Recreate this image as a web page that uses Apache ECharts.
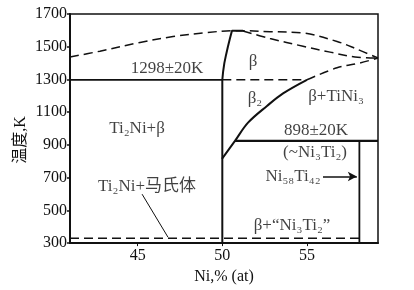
<!DOCTYPE html>
<html><head><meta charset="utf-8">
<script src="https://cdn.jsdelivr.net/npm/echarts@6/dist/echarts.min.js"></script>
<style>html,body{margin:0;padding:0;background:#fff}#c{width:414px;height:290px}</style>
</head><body><div id="c"></div>
<script>
// ---- data (Ni %(at), T in K) ----
const xTicks = [45, 50, 55];
const yTicks = [300, 500, 700, 900, 1100, 1300, 1500, 1700];
const liquidus = [[41.0,1437],[42.77,1473],[45.14,1526],[47.09,1562],[49.1,1586],[50.57,1598],[51.22,1598],[52.82,1592],[54.77,1584],[56.78,1532],[57.96,1485],[59.2,1431]];
const solidus = [[51.22,1596],[52.82,1550],[54.77,1503],[56.37,1467],[57.84,1437],[59.2,1431]];
const betaVertical = [[50.0,300],[50.0,1298]];
const betaCurve = [[50.0,1298],[50.05,1350],[50.12,1400],[50.22,1450],[50.33,1500],[50.45,1550],[50.57,1598],[51.22,1598]];
const line1298Solid = [[41.0,1298],[50.0,1298]];
const line1298Dash = [[50.0,1298],[55.0,1298]];
const beta2Solid = [[49.98,815],[50.75,925],[51.52,1036],[52.64,1138],[53.59,1215],[55.0,1298]];
const beta2Dash = [[55.0,1298],[56.78,1371],[58.14,1401],[59.2,1431]];
const line898 = [[50.75,925],[59.2,925]];
const compoundLine = [[58.1,925],[58.1,300]];
const line330 = [[41.0,330],[58.1,330]];
const leader = [[45.26,599],[46.79,336]];
const arrowLine = [[55.95,707],[57.95,707]];
const labels = [
  {t:'1298±20K', x:46.73, y:1365},
  {t:'β', x:51.82, y:1407},
  {t:'β₂', x:51.93, y:1185},
  {t:'β+TiNi₃', x:56.72, y:1197},
  {t:'898±20K', x:55.54, y:988},
  {t:'(~Ni₃Ti₂)', x:55.48, y:856},
  {t:'Ni₅₈Ti₄₂', x:54.18, y:707},
  {t:'Ti₂Ni+β', x:44.96, y:1000},
  {t:'Ti₂Ni+马氏体', x:45.55, y:647},
  {t:'β+“Ni₃Ti₂”', x:54.12, y:408}
];

const FONT = "'Liberation Serif','DejaVu Serif','Noto Sans CJK SC',serif";
const chart = echarts.init(document.getElementById('c'), null, {renderer:'canvas'});
const DASH = [9,5];
function ln(data, dashed, w) {
  return {type:'line', data:data, symbol:'none', silent:true, animation:false,
    lineStyle:{color:'#111', width:w||1.5, type: dashed ? DASH : 'solid'}, z:3};
}
function curve(data, dashed, w) { const s = ln(data, dashed, w); s.smooth = 0.35; return s; }
const series = [
  curve(liquidus, true, 1.5),
  curve(solidus, true, 1.5),
  ln(betaVertical, false, 2),
  ln(betaCurve, false, 2),
  ln(line1298Solid, false, 1.8),
  ln(line1298Dash, true, 1.5),
  curve(beta2Solid, false, 2),
  curve(beta2Dash, true, 1.5),
  ln(line898, false, 2.2),
  ln(compoundLine, false, 1.8),
  ln(line330, true, 1.5),
  ln(leader, false, 1),
  {type:'line', data:[], symbol:'none', silent:true, animation:false,
   markLine:{silent:true, symbol:['none','arrow'], symbolSize:[7,9], animation:false,
     lineStyle:{color:'#111', width:1.5, type:'solid'}, label:{show:false},
     data:[[{coord:arrowLine[0]},{coord:arrowLine[1]}]]}},
  {type:'scatter', symbolSize:0, silent:true, animation:false,
   data: labels.map(l => ({value:[l.x,l.y], name:l.t})),
   label:{show:true, position:'inside', formatter: p => p.name, color:'#111',
     fontFamily:FONT, fontSize:17}}
];
chart.setOption({
  backgroundColor:'#fff',
  animation:false,
  grid:{left:70, right:36, top:14, bottom:42, show:true, borderColor:'#111', borderWidth:1.5},
  xAxis:{type:'value', min:41, max:59.2, name:'Ni,% (at)', nameLocation:'middle', nameGap:24,
    nameTextStyle:{fontFamily:FONT, fontSize:16, color:'#111'},
    axisLine:{show:true, onZero:false, lineStyle:{color:'#111', width:2}},
    axisTick:{show:true, length:3, customValues:xTicks, lineStyle:{color:'#111'}},
    axisLabel:{customValues:xTicks, fontFamily:FONT, fontSize:16, color:'#111', margin:5,
      formatter: v => String(v)},
    splitLine:{show:false}},
  yAxis:{type:'value', min:300, max:1700,
    axisLine:{show:true, onZero:false, lineStyle:{color:'#111', width:2}},
    axisTick:{show:true, length:3, customValues:yTicks, lineStyle:{color:'#111', width:1.5}},
    axisLabel:{customValues:yTicks, fontFamily:FONT, fontSize:16, color:'#111', margin:3,
      formatter: v => String(v)},
    splitLine:{show:false}},
  graphic:[{type:'text', x:21, y:140, rotation:Math.PI/2,
    style:{text:'温度,K', fontFamily:FONT, fontSize:16, fill:'#111', textAlign:'center', textVerticalAlign:'middle'}}],
  series: series
});
</script></body></html>
